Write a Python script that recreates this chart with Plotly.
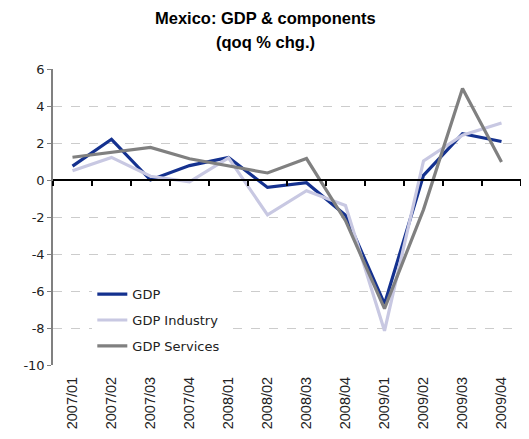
import plotly.graph_objects as go

quarters = ['2007/01', '2007/02', '2007/03', '2007/04',
            '2008/01', '2008/02', '2008/03', '2008/04',
            '2009/01', '2009/02', '2009/03', '2009/04']

gdp = [0.75, 2.2, 0.0, 0.78, 1.22, -0.4, -0.15, -1.9, -6.7, 0.25, 2.5, 2.08]
gdp_industry = [0.5, 1.22, 0.2, -0.1, 1.2, -1.88, -0.58, -1.38, -8.15, 1.03, 2.42, 3.08]
gdp_services = [1.23, 1.5, 1.76, 1.15, 0.76, 0.38, 1.16, -2.2, -6.95, -1.6, 4.95, 0.97]

y_ticks = [-10, -8, -6, -4, -2, 0, 2, 4, 6]

series = [
    ('GDP', gdp, '#14318f'),
    ('GDP Industry', gdp_industry, '#c8c8e2'),
    ('GDP Services', gdp_services, '#808080'),
]

fig = go.Figure()

for name, values, color in series:
    fig.add_trace(go.Scatter(
        x=quarters, y=values, name=name, mode='lines',
        line=dict(color=color, width=3.2),
        legendgroup=name
    ))

# invisible trace to carry the axis drawn along the zero line
fig.add_trace(go.Scatter(
    x=quarters, y=[0] * len(quarters), xaxis='x2', mode='lines',
    line=dict(width=0), showlegend=False, hoverinfo='skip'
))

# title as two annotations so the line spacing matches
title_lines = ['Mexico: GDP & components', '(qoq % chg.)']
for text, ypos in zip(title_lines, [1.172, 1.091]):
    fig.add_annotation(
        text='<b>' + text + '</b>', xref='paper', yref='paper',
        x=0.455, y=ypos, xanchor='center', yanchor='middle', showarrow=False,
        font=dict(family='Liberation Sans, Arial', size=16.5, color='black')
    )

# the page body adds an 8px offset, so the figure is sized to compensate
fig.update_layout(
    width=521, height=431,
    margin=dict(l=45, r=8, t=61, b=74),
    paper_bgcolor='white',
    plot_bgcolor='white',
    font=dict(family='DejaVu Sans', size=13, color='#222222'),
    xaxis=dict(
        type='category', range=[-0.5, 11.5], automargin=False,
        tickangle=-90, showgrid=False, showline=False, zeroline=False,
        ticks='', ticklabelstandoff=8,
        tickfont=dict(family='Liberation Sans, Arial', size=14.5, color='#222222')
    ),
    xaxis2=dict(
        type='category', range=[-0.5, 11.5], overlaying='x',
        anchor='free', position=10 / 16, automargin=False,
        showline=True, linecolor='black', linewidth=1.5,
        ticks='outside', ticklen=5, tickcolor='black', tickwidth=1.5,
        tickson='boundaries', showticklabels=False, showgrid=False
    ),
    yaxis=dict(
        range=[-10, 6], tickvals=y_ticks, ticktext=[str(v) for v in y_ticks],
        automargin=False,
        showgrid=True, gridcolor='#cccccc', griddash='dash', gridwidth=1,
        zeroline=False, showline=True, linecolor='#808080', linewidth=1.5,
        ticks='outside', ticklen=4, tickcolor='#808080',
        tickfont=dict(family='DejaVu Sans', size=13, color='#222222')
    ),
    legend=dict(
        x=0.084, y=0.29, xanchor='left', yanchor='top',
        bgcolor='white', tracegroupgap=6,
        font=dict(family='DejaVu Sans', size=13, color='#222222'),
        itemwidth=30
    ),
    showlegend=True
)

fig.write_html("out.html")
